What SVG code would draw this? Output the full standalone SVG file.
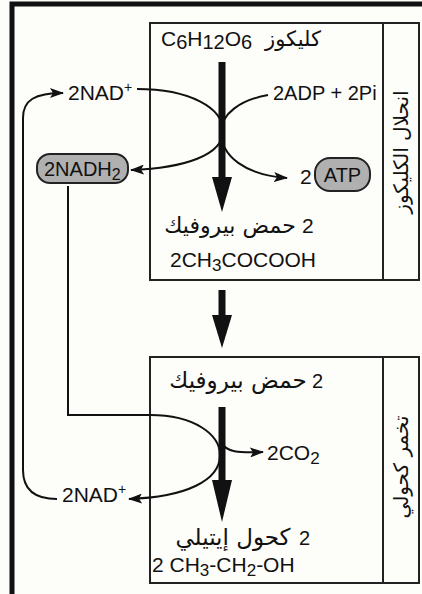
<svg xmlns="http://www.w3.org/2000/svg" width="422" height="594" viewBox="0 0 422 594">
<style>
.t{font-family:"Liberation Sans","DejaVu Sans",Arial,sans-serif;font-size:20px;fill:#111}
.f{font-size:21px}
.ar{font-family:"DejaVu Sans","Noto Sans",sans-serif;fill:#111}
.box{fill:none;stroke:#222;stroke-width:2}
.ln{fill:none;stroke:#111;stroke-width:2}
.pill{fill:#b0b0b0;stroke:#222;stroke-width:2}
.thick{fill:#111}
</style>
<defs>
<marker id="ah" viewBox="0 0 14 10" refX="13" refY="5" markerWidth="14" markerHeight="10" orient="auto" markerUnits="userSpaceOnUse">
<path d="M0,0 L14,5 L0,10 L3,5 z" fill="#111"/>
</marker>
</defs>
<rect x="0" y="0" width="422" height="594" fill="#fdfdf9"/>
<path d="M12,594 V4 H422" fill="none" stroke="#111" stroke-width="5"/>

<g id="glycolysis">
<rect class="box" x="150" y="23" width="269" height="257"/>
<line class="box" x1="383" y1="23" x2="383" y2="280"/>
<text class="ar" font-size="20" transform="translate(401,152) rotate(-90)" x="0" y="7" text-anchor="middle">انحلال الكليكوز</text>
</g>

<g id="fermentation">
<rect class="box" x="150" y="357" width="269" height="226"/>
<line class="box" x1="383" y1="357" x2="383" y2="583"/>
<text class="ar" font-size="20" transform="translate(401,467) rotate(-90)" x="0" y="7" text-anchor="middle">تخمر كحولي</text>
</g>

<g id="glucose">
<text class="t f" x="161" y="46">C<tspan font-size="20" dy="3">6</tspan><tspan dy="-3">H</tspan><tspan font-size="20" dy="3">12</tspan><tspan dy="-3">O</tspan><tspan font-size="20" dy="3">6</tspan></text>
<text class="ar" font-size="21" x="293" y="46" text-anchor="middle">كليكوز</text>
</g>

<g id="nad-top"><text class="t f" x="68" y="100">2NAD<tspan font-size="14" dy="-8">+</tspan></text></g>
<g id="adp"><text class="t" x="273" y="100">2ADP + 2Pi</text></g>

<g id="nadh2">
<rect class="pill" x="37" y="154" width="91" height="29" rx="13"/>
<text class="t" x="44" y="176">2NADH<tspan font-size="16" dy="4">2</tspan></text>
</g>

<g id="atp">
<text class="t f" x="300" y="184">2</text>
<rect class="pill" x="315" y="158" width="55" height="33" rx="15"/>
<text class="t" x="342.5" y="182" text-anchor="middle">ATP</text>
</g>

<g id="pyruvate-top">
<text class="t f" x="302" y="233">2</text>
<text class="ar" font-size="22" x="230" y="233" text-anchor="middle">حمض بيروفيك</text>
<text class="t f" x="170" y="267">2CH<tspan font-size="17" dy="4">3</tspan><tspan dy="-4">COCOOH</tspan></text>
</g>

<g id="pyruvate-bottom">
<text class="t" x="312" y="388" font-size="23">2</text>
<text class="ar" font-size="23" x="238" y="388" text-anchor="middle">حمض بيروفيك</text>
</g>

<g id="co2"><text class="t f" x="267" y="460">2CO<tspan font-size="17" dy="4">2</tspan></text></g>
<g id="nad-bottom"><text class="t f" x="62" y="502">2NAD<tspan font-size="14" dy="-8">+</tspan></text></g>

<g id="ethanol">
<text class="t" x="299" y="545" font-size="23">2</text>
<text class="ar" font-size="23" x="233" y="545" text-anchor="middle">كحول إيتيلي</text>
<text class="t f" x="152" y="572">2 CH<tspan font-size="17" dy="4">3</tspan><tspan dy="-4">-CH</tspan><tspan font-size="17" dy="4">2</tspan><tspan dy="-4">-OH</tspan></text>
</g>

<g id="connectors">
<rect class="thick" x="218.5" y="62" width="7" height="117"/>
<polygon class="thick" points="212,177 232,177 222,212"/>
<rect class="thick" x="218.5" y="290" width="7" height="27"/>
<polygon class="thick" points="212,315 232,315 222,348"/>
<rect class="thick" x="218.5" y="407" width="7" height="75"/>
<polygon class="thick" points="212,480 232,480 222,522"/>
<path class="ln" d="M137,89 C190,89 223,108 223,131 C223,155 185,168 131,170" marker-end="url(#ah)"/>
<path class="ln" d="M268,95 C240,100 221,114 221,132 C221,156 245,175 287,178" marker-end="url(#ah)"/>
<path class="ln" d="M68,186 V415 H150 C195,415 220,435 220,455 C220,481 185,497 129,499" marker-end="url(#ah)"/>
<path class="ln" d="M222,443 C226,452 238,453 263,452" marker-end="url(#ah)"/>
<path class="ln" d="M57,499 C35,499 23,490 23,470 V118 C23,100 35,93 63,93" marker-end="url(#ah)"/>
</g>
</svg>
